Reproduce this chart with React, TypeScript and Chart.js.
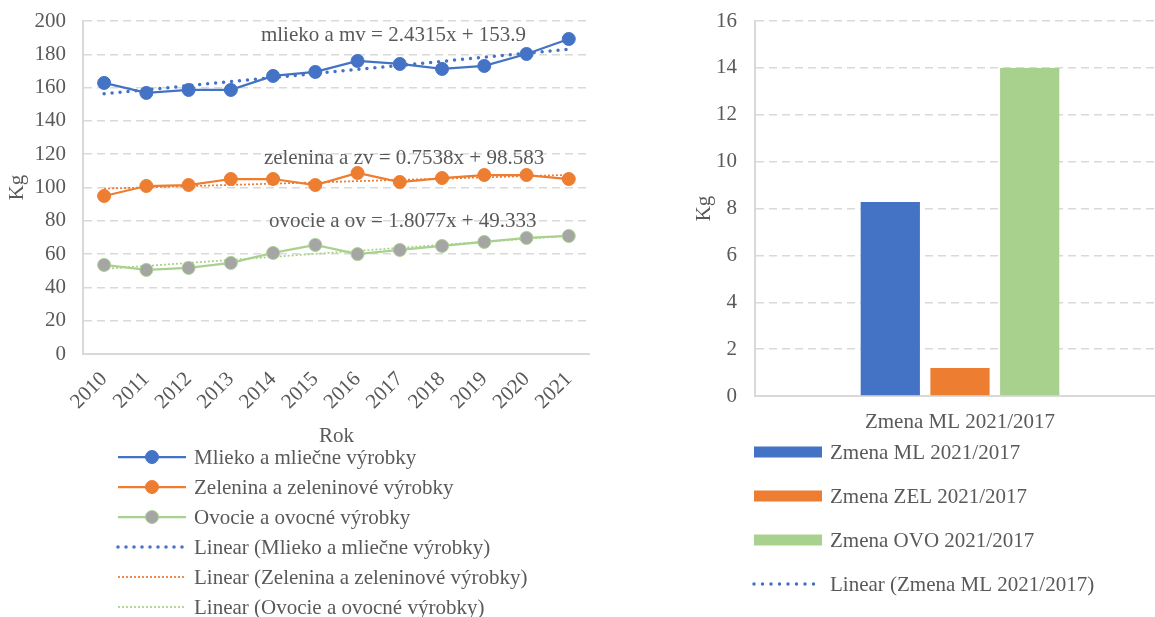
import React, { useEffect, useRef } from "react";
import { Chart, registerables } from "chart.js";

Chart.register(...registerables);

// ---------------- DATA ----------------
const years = ["2010", "2011", "2012", "2013", "2014", "2015", "2016", "2017", "2018", "2019", "2020", "2021"];
const mlieko = [162.8, 156.8, 158.6, 158.6, 167.0, 169.4, 176.0, 174.2, 171.2, 173.0, 180.2, 189.2];
const zelenina = [94.9, 100.9, 101.5, 105.1, 105.1, 101.5, 108.7, 103.3, 105.7, 107.5, 107.5, 105.1];
const ovocie = [53.5, 50.5, 51.7, 54.7, 60.7, 65.5, 60.0, 62.5, 64.9, 67.3, 69.7, 70.9];
// trend lines: values at first and last year (read from the equations)
const trendMlieko = [156.3, null, null, null, null, null, null, null, null, null, null, 183.1];
const trendZelenina = [99.3, null, null, null, null, null, null, null, null, null, null, 107.6];
const trendOvocie = [51.1, null, null, null, null, null, null, null, null, null, null, 71.0];
const trendEquations = [
  "mlieko a mv = 2.4315x + 153.9",
  "zelenina a zv = 0.7538x + 98.583",
  "ovocie a ov = 1.8077x + 49.333",
];
const seriesNames = ["Mlieko a mliečne výrobky", "Zelenina a zeleninové výrobky", "Ovocie a ovocné výrobky"];
const leftYMin = 0;
const leftYMax = 200;
const leftYStep = 20;

const barCategories = ["Zmena ML 2021/2017"];
const zmenaML = [8.28];
const zmenaZEL = [1.2];
const zmenaOVO = [14.0];
const barNames = ["Zmena ML 2021/2017", "Zmena ZEL 2021/2017", "Zmena OVO 2021/2017", "Linear (Zmena ML 2021/2017)"];
const rightYMin = 0;
const rightYMax = 16;
const rightYStep = 2;

// ---------------- STYLE ----------------
const FONT = "'Liberation Serif', 'Times New Roman', serif";
const TXT = "#595959";
const GRID = "#D9D9D9";
const BLUE = "#4472C4";
const ORANGE = "#ED7D31";
const GREEN = "#A9D18E";
const GRAY = "#A5A5A5";
const FS = 21;

// equation label anchors (category index, value)
const eqAnchors = [
  { idx: 6.85, val: 191.6 },
  { idx: 7.1, val: 117.7 },
  { idx: 7.07, val: 79.3 },
];

function legendPlugin(x0: number, y0: number, step: number, sampleW: number, extra?: (chart: any) => void) {
  return {
    id: "customLegend",
    afterDraw(chart: any) {
      const ctx = chart.ctx;
      ctx.save();
      if (extra) extra(chart);
      chart.data.datasets.forEach((ds: any, i: number) => {
        const y = y0 + i * step;
        const type = ds.type || chart.config.type;
        if (type === "bar") {
          ctx.fillStyle = ds.backgroundColor;
          ctx.fillRect(x0, y - 5.5, sampleW, 11);
        } else {
          ctx.beginPath();
          ctx.setLineDash(ds.borderDash || []);
          ctx.lineCap = ds.borderCapStyle || "butt";
          ctx.lineWidth = ds.borderWidth;
          ctx.strokeStyle = ds.borderColor;
          ctx.moveTo(x0, y);
          ctx.lineTo(x0 + sampleW, y);
          ctx.stroke();
          ctx.setLineDash([]);
          if (ds.pointRadius > 0) {
            ctx.beginPath();
            ctx.arc(x0 + sampleW / 2, y, ds.pointRadius, 0, Math.PI * 2);
            ctx.fillStyle = ds.pointBackgroundColor;
            ctx.fill();
            ctx.lineWidth = ds.pointBorderWidth;
            ctx.strokeStyle = ds.pointBorderColor;
            ctx.stroke();
          }
        }
        ctx.fillStyle = TXT;
        ctx.font = `${FS}px ${FONT}`;
        ctx.textAlign = "left";
        ctx.textBaseline = "middle";
        ctx.fillText(ds.label, x0 + sampleW + 8, y + 1);
      });
      ctx.restore();
    },
  };
}

const eqPlugin = {
  id: "eqLabels",
  afterDatasetsDraw(chart: any) {
    const ctx = chart.ctx;
    const xs = chart.scales.x;
    const ys = chart.scales.y;
    ctx.save();
    ctx.font = `${FS}px ${FONT}`;
    ctx.fillStyle = TXT;
    ctx.textAlign = "center";
    ctx.textBaseline = "middle";
    trendEquations.forEach((t, i) => {
      ctx.fillText(t, xs.getPixelForValue(eqAnchors[i].idx), ys.getPixelForValue(eqAnchors[i].val));
    });
    ctx.restore();
  },
};

function LeftChart() {
  const ref = useRef<HTMLCanvasElement>(null);
  useEffect(() => {
    const lineDs = (label: string, data: any[], color: string, pointFill: string) => ({
      label,
      data,
      borderColor: color,
      backgroundColor: color,
      borderWidth: 2.25,
      pointRadius: 6.5,
      pointBackgroundColor: pointFill,
      pointBorderColor: color,
      pointBorderWidth: 1,
      tension: 0,
    });
    const trendDs = (label: string, data: any[], color: string, width: number, dash: number[], cap: string) => ({
      label,
      data,
      borderColor: color,
      backgroundColor: color,
      borderWidth: width,
      borderDash: dash,
      borderCapStyle: cap,
      pointRadius: 0,
      spanGaps: true,
      tension: 0,
    });
    const chart = new Chart(ref.current as HTMLCanvasElement, {
      type: "line",
      data: {
        labels: years,
        datasets: [
          lineDs(seriesNames[0], mlieko, BLUE, BLUE),
          lineDs(seriesNames[1], zelenina, ORANGE, ORANGE),
          lineDs(seriesNames[2], ovocie, GREEN, GRAY),
          trendDs("Linear (" + seriesNames[0] + ")", trendMlieko, BLUE, 3.5, [0, 8], "round"),
          trendDs("Linear (" + seriesNames[1] + ")", trendZelenina, ORANGE, 1.75, [2, 2], "butt"),
          trendDs("Linear (" + seriesNames[2] + ")", trendOvocie, GREEN, 1.75, [2, 2], "butt"),
        ] as any,
      },
      options: {
        responsive: false,
        animation: false,
        layout: { padding: { top: 21, right: 10, left: 0, bottom: 0 } },
        plugins: { legend: { display: false }, tooltip: { enabled: false } },
        scales: {
          x: {
            offset: true,
            grid: { display: false, drawTicks: false },
            border: { display: true, color: GRID, width: 2 },
            ticks: {
              font: { family: FONT, size: FS },
              color: TXT,
              minRotation: 45,
              maxRotation: 45,
              autoSkip: false,
              padding: 13,
            },
            afterFit: (s: any) => {
              s.height = 617 - 354;
            },
          },
          y: {
            min: leftYMin,
            max: leftYMax,
            ticks: { stepSize: leftYStep, font: { family: FONT, size: FS }, color: TXT, padding: 0 },
            grid: {
              color: GRID,
              lineWidth: 1.5,
              drawTicks: true,
              tickLength: 17,
              tickColor: "rgba(0,0,0,0)",
              borderDash: [8, 5],
            } as any,
            border: { display: true, color: GRID, width: 2, dash: [8, 5] },
            title: { display: true, text: "Kg", font: { family: FONT, size: FS }, color: TXT, padding: { top: 5, bottom: 0 } },
            afterFit: (s: any) => {
              s.width = 83;
            },
          },
        },
      } as any,
      plugins: [
        eqPlugin,
        legendPlugin(118, 457, 30, 68, (c: any) => {
          const ctx = c.ctx;
          ctx.font = `${FS}px ${FONT}`;
          ctx.fillStyle = TXT;
          ctx.textAlign = "center";
          ctx.textBaseline = "middle";
          ctx.fillText("Rok", (c.chartArea.left + c.chartArea.right) / 2, 436);
        }),
      ],
    });
    return () => chart.destroy();
  }, []);
  return <canvas ref={ref} width={600} height={617} style={{ position: "absolute", left: 0, top: 0 }} />;
}

function RightChart() {
  const ref = useRef<HTMLCanvasElement>(null);
  useEffect(() => {
    const barDs = (label: string, data: number[], color: string) => ({
      type: "bar",
      label,
      data,
      backgroundColor: color,
      borderWidth: 0,
      categoryPercentage: 0.51,
      barPercentage: 0.85,
    });
    const chart = new Chart(ref.current as HTMLCanvasElement, {
      type: "bar",
      data: {
        labels: barCategories,
        datasets: [
          barDs(barNames[0], zmenaML, BLUE),
          barDs(barNames[1], zmenaZEL, ORANGE),
          barDs(barNames[2], zmenaOVO, GREEN),
          {
            type: "line",
            label: barNames[3],
            data: zmenaML,
            borderColor: BLUE,
            borderWidth: 3.5,
            borderDash: [0, 8.5],
            borderCapStyle: "round",
            pointRadius: 0,
          },
        ] as any,
      },
      options: {
        responsive: false,
        animation: false,
        layout: { padding: { top: 21, right: 0, left: 0, bottom: 0 } },
        plugins: { legend: { display: false }, tooltip: { enabled: false } },
        scales: {
          x: {
            grid: { display: false, drawTicks: false },
            border: { display: true, color: GRID, width: 2 },
            ticks: { font: { family: FONT, size: FS }, color: TXT, padding: 14 },
            afterFit: (s: any) => {
              s.height = 617 - 396;
            },
          },
          y: {
            min: rightYMin,
            max: rightYMax,
            ticks: { stepSize: rightYStep, font: { family: FONT, size: FS }, color: TXT, padding: 0 },
            grid: {
              color: GRID,
              lineWidth: 1.5,
              drawTicks: true,
              tickLength: 18,
              tickColor: "rgba(0,0,0,0)",
              borderDash: [8, 5],
            } as any,
            border: { display: true, color: GRID, width: 2, dash: [8, 5] },
            title: { display: true, text: "Kg", font: { family: FONT, size: FS }, color: TXT, padding: { top: 12, bottom: 0 } },
            afterFit: (s: any) => {
              s.width = 75;
            },
          },
        },
      } as any,
      plugins: [legendPlugin(74, 452, 44, 68)],
    });
    return () => chart.destroy();
  }, []);
  return <canvas ref={ref} width={485} height={617} style={{ position: "absolute", left: 680, top: 0 }} />;
}

export default function App() {
  return (
    <div
      style={{
        position: "fixed",
        left: 0,
        top: 0,
        width: 1155,
        height: 617,
        overflow: "hidden",
        background: "#ffffff",
      }}
    >
      <LeftChart />
      <RightChart />
    </div>
  );
}
